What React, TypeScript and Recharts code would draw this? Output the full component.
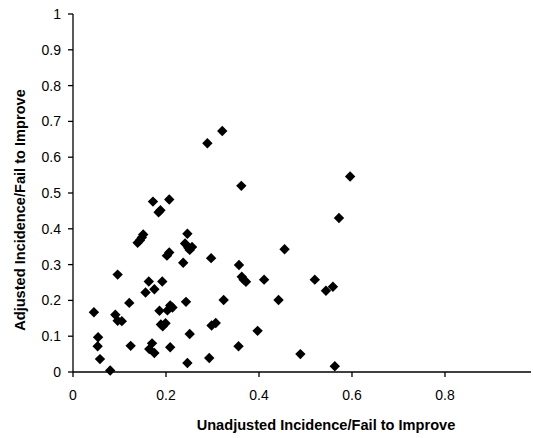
import React from 'react';
import { ScatterChart, Scatter, XAxis, YAxis, Label } from 'recharts';

const unadjusted = [
  0.045, 0.054, 0.053, 0.058, 0.080, 0.091, 0.096, 0.096, 0.105, 0.121,
  0.124, 0.139, 0.144, 0.148, 0.151, 0.156, 0.163, 0.172, 0.175, 0.164,
  0.170, 0.175, 0.184, 0.188, 0.186, 0.192, 0.189, 0.193, 0.199, 0.202,
  0.207, 0.207, 0.203, 0.209, 0.214, 0.209, 0.237, 0.241, 0.246, 0.248,
  0.251, 0.256, 0.243, 0.251, 0.246, 0.289, 0.321, 0.297, 0.293, 0.298,
  0.307, 0.324, 0.362, 0.357, 0.363, 0.367, 0.372, 0.356, 0.397, 0.411,
  0.442, 0.455, 0.489, 0.520, 0.544, 0.559, 0.563, 0.572, 0.596,
];

const adjusted = [
  0.167, 0.097, 0.072, 0.036, 0.004, 0.160, 0.272, 0.143, 0.142, 0.193,
  0.073, 0.361, 0.368, 0.376, 0.384, 0.222, 0.253, 0.476, 0.231, 0.064,
  0.080, 0.053, 0.446, 0.452, 0.171, 0.253, 0.133, 0.128, 0.136, 0.325,
  0.334, 0.482, 0.172, 0.186, 0.180, 0.069, 0.305, 0.359, 0.386, 0.347,
  0.341, 0.349, 0.196, 0.106, 0.025, 0.639, 0.673, 0.318, 0.039, 0.130,
  0.137, 0.201, 0.520, 0.299, 0.266, 0.258, 0.252, 0.072, 0.115, 0.258,
  0.201, 0.343, 0.050, 0.258, 0.227, 0.238, 0.016, 0.430, 0.546,
];

const xTicks = [0, 0.2, 0.4, 0.6, 0.8];
const yTicks = [0, 0.1, 0.2, 0.3, 0.4, 0.5, 0.6, 0.7, 0.8, 0.9, 1];

const xTitle = 'Unadjusted Incidence/Fail to Improve';
const yTitle = 'Adjusted Incidence/Fail to Improve';

const data = unadjusted.map((x, i) => ({ x, y: adjusted[i] }));

const FONT = '"Liberation Sans", Arial, sans-serif';

const Diamond = (props: any) => {
  const { cx, cy } = props;
  if (cx == null || cy == null) return null;
  const r = 5.2;
  return (
    <path
      d={`M${cx},${cy - r}L${cx + r},${cy}L${cx},${cy + r}L${cx - r},${cy}Z`}
      fill="#000"
    />
  );
};

const XTitle = (props: any) => {
  const vb = props.viewBox || {};
  return (
    <text
      x={vb.x + vb.width / 2 + 24}
      y={vb.y + vb.height - 8}
      textAnchor="middle"
      fontFamily={FONT}
      fontSize={14.6}
      fontWeight="bold"
      fill="#000"
    >
      {xTitle}
    </text>
  );
};

const YTitle = (props: any) => {
  const vb = props.viewBox || {};
  const x = 19.5;
  const y = vb.y + vb.height / 2 + 17;
  return (
    <text
      x={x}
      y={y}
      transform={`rotate(-90, ${x}, ${y})`}
      textAnchor="middle"
      dominantBaseline="central"
      fontFamily={FONT}
      fontSize={14.6}
      fontWeight="bold"
      fill="#000"
    >
      {yTitle}
    </text>
  );
};

export default function App() {
  return (
    <div style={{ position: 'absolute', left: 0, top: 0, width: 533, height: 438, background: '#fff' }}>
      <ScatterChart
        width={533}
        height={438}
        margin={{ top: 14, right: 2, bottom: 0, left: 0 }}
      >
        <XAxis
          type="number"
          dataKey="x"
          domain={[0, 0.985]}
          ticks={xTicks}
          allowDataOverflow
          height={66}
          tickSize={5}
          tickMargin={13}
          axisLine={{ stroke: '#000', strokeWidth: 1.3 }}
          tickLine={{ stroke: '#000', strokeWidth: 1.3 }}
          tick={{ fill: '#000', fontSize: 14, fontFamily: FONT }}
          interval={0}
        >
          <Label content={<XTitle />} />
        </XAxis>
        <YAxis
          type="number"
          dataKey="y"
          domain={[0, 1]}
          ticks={yTicks}
          width={73}
          tickSize={5}
          tickMargin={7}
          axisLine={{ stroke: '#000', strokeWidth: 1.3 }}
          tickLine={{ stroke: '#000', strokeWidth: 1.3 }}
          tick={{ fill: '#000', fontSize: 14, fontFamily: FONT }}
          interval={0}
        >
          <Label content={<YTitle />} />
        </YAxis>
        <Scatter data={data} shape={<Diamond />} isAnimationActive={false} />
      </ScatterChart>
    </div>
  );
}
